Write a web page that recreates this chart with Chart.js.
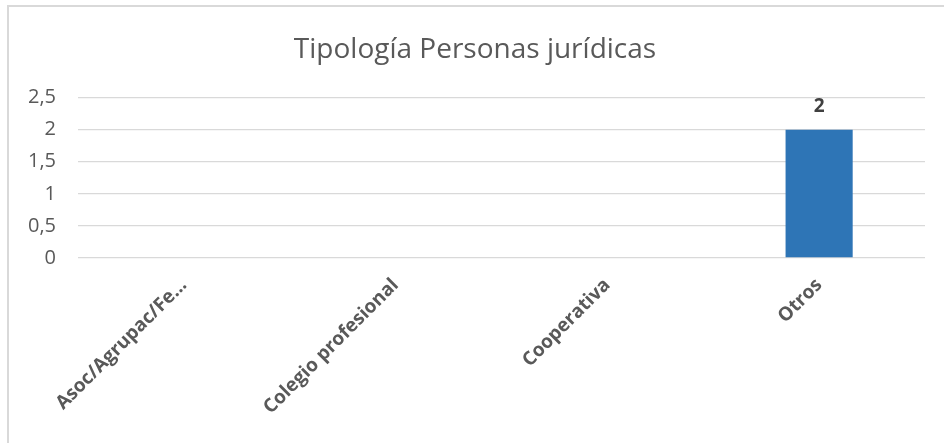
<!DOCTYPE html>
<html>
<head>
<meta charset="utf-8">
<script src="https://cdn.jsdelivr.net/npm/chart.js@4.4.1/dist/chart.umd.min.js"></script>
<style>
  html, body { margin: 0; padding: 0; background: #fff; overflow: hidden; }
  #frame { position: absolute; left: 7px; top: 5px; width: 1200px; height: 800px; border: 2px solid #d9d9d9; }
  #chart { position: absolute; left: 0; top: 0; }
</style>
</head>
<body>
<div id="frame"></div>
<canvas id="chart" width="944" height="443"></canvas>
<script>
// chart data
const categories = ["Asoc/Agrupac/Fe...", "Colegio profesional", "Cooperativa", "Otros"];
const values = [null, null, null, 2];
const yTicks = [0, 0.5, 1, 1.5, 2, 2.5];

const FONT = "'Open Sans', sans-serif";

// value labels over the bars
const barLabels = {
    id: "barLabels",
    afterDatasetsDraw(chart) {
        const ctx = chart.ctx;
        const meta = chart.getDatasetMeta(0);
        ctx.save();
        ctx.font = "bold 19px " + FONT;
        ctx.fillStyle = "#404040";
        ctx.textAlign = "center";
        ctx.textBaseline = "middle";
        meta.data.forEach((bar, i) => {
            const v = values[i];
            if (v === null) return;
            ctx.fillText(String(v).replace(".", ","), bar.x, bar.y - 23);
        });
        ctx.restore();
    }
};

new Chart(document.getElementById("chart"), {
    type: "bar",
    data: {
        labels: categories,
        datasets: [{
            data: values,
            backgroundColor: "#2e75b6",
            categoryPercentage: 1,
            barPercentage: 0.317
        }]
    },
    options: {
        responsive: false,
        animation: false,
        // left padding keeps the title centred like the original
        layout: { padding: { left: 25, right: 19, top: 0, bottom: 0 } },
        plugins: {
            legend: { display: false },
            tooltip: { enabled: false },
            title: {
                display: true,
                text: "Tipología Personas jurídicas",
                color: "#595959",
                font: { family: FONT, size: 28, weight: "normal", lineHeight: 1.2 },
                padding: { top: 33, bottom: 31 }
            }
        },
        scales: {
            x: {
                grid: { display: false },
                border: { display: false },
                ticks: {
                    color: "#595959",
                    font: { family: FONT, size: 19, weight: "bold" },
                    minRotation: 45,
                    maxRotation: 45,
                    autoSkip: false,
                    padding: 8
                },
                afterFit: scale => { scale.height = 443 - 258; }
            },
            y: {
                min: 0,
                max: 2.5,
                afterBuildTicks: scale => { scale.ticks = yTicks.map(v => ({ value: v })); },
                grid: { color: "#d9d9d9", lineWidth: 1.3, drawTicks: false },
                border: { display: false },
                ticks: {
                    color: "#595959",
                    font: { family: FONT, size: 20 },
                    padding: 22,
                    callback: v => String(v).replace(".", ",")
                },
                afterFit: scale => { scale.width = 53; }
            }
        }
    },
    plugins: [barLabels]
});
</script>
</body>
</html>
